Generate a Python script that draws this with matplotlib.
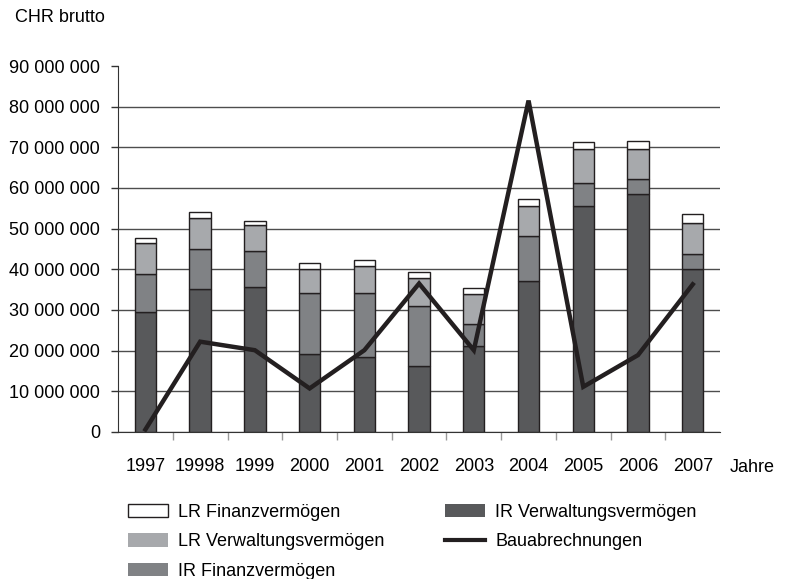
import matplotlib.pyplot as plt
from matplotlib.patches import Patch
from matplotlib.lines import Line2D
from matplotlib.ticker import FuncFormatter, FixedLocator

plt.rcParams['font.family'] = ['Liberation Sans', 'DejaVu Sans']

years = ["1997", "19998", "1999", "2000", "2001", "2002", "2003", "2004", "2005", "2006", "2007"]
# stacked components (CHF gross)
ir_verwaltung = [29.6e6, 35.1e6, 35.7e6, 19.2e6, 18.4e6, 16.2e6, 21.1e6, 37.1e6, 55.6e6, 58.5e6, 40.0e6]
ir_finanz = [9.2e6, 9.9e6, 8.7e6, 14.9e6, 15.8e6, 14.8e6, 5.4e6, 11.1e6, 5.6e6, 3.7e6, 3.7e6]
lr_verwaltung = [7.6e6, 7.7e6, 6.4e6, 6.0e6, 6.6e6, 6.9e6, 7.4e6, 7.4e6, 8.3e6, 7.5e6, 7.8e6]
lr_finanz = [1.3e6, 1.4e6, 1.1e6, 1.5e6, 1.5e6, 1.4e6, 1.6e6, 1.6e6, 1.7e6, 1.9e6, 2.2e6]
bauabrechnungen = [0.6e6, 22.2e6, 20.1e6, 10.7e6, 20.1e6, 36.5e6, 20.1e6, 81.5e6, 11.1e6, 18.9e6, 36.3e6]

c_irv = "#58595b"
c_irf = "#808285"
c_lrv = "#a7a9ac"
c_lrf = "#ffffff"
edge = "#231f20"
fs = 13

fig = plt.figure(figsize=(7.87, 5.79), dpi=100)
ax = fig.add_axes([0.15, 0.254, 0.765, 0.632])

x = list(range(len(years)))
w = 0.39
bottom = [0.0] * len(years)
for vals, col in [(ir_verwaltung, c_irv), (ir_finanz, c_irf), (lr_verwaltung, c_lrv), (lr_finanz, c_lrf)]:
    ax.bar(x, vals, w, bottom=bottom, color=col, edgecolor=edge, linewidth=1.0, zorder=3)
    bottom = [b + v for b, v in zip(bottom, vals)]

ax.plot(x, bauabrechnungen, color=edge, linewidth=3.2, zorder=4, solid_joinstyle="miter")

ax.set_xlim(-0.5, 10.5)
ax.set_ylim(0, 90e6)
ax.set_yticks([i * 10e6 for i in range(10)])
ax.yaxis.set_major_formatter(FuncFormatter(lambda v, p: f"{int(v):,}".replace(",", " ")))
ax.grid(axis="y", color="#4d4d4d", linewidth=1.0, zorder=0)
ax.yaxis.get_gridlines()[-1].set_visible(False)
ax.tick_params(axis="y", length=5, width=1, color="#333333", labelsize=fs, pad=8)

ax.set_xticks(x)
ax.set_xticklabels(years)
ax.xaxis.set_minor_locator(FixedLocator([i + 0.5 for i in range(10)]))
ax.tick_params(axis="x", which="major", length=0, labelsize=fs, pad=19)
ax.tick_params(axis="x", which="minor", length=6, width=1, color="#999999")

for s in ["top", "right"]:
    ax.spines[s].set_visible(False)
ax.spines["left"].set_color("#333333")
ax.spines["bottom"].set_color("#333333")

fig.text(15 / 787, 1 - 18 / 579, "CHR brutto", fontsize=fs, va="center", ha="left")
fig.text(752 / 787, 1 - 467 / 579, "Jahre", fontsize=fs, va="center", ha="center")

handles = [
    Patch(facecolor=c_lrf, edgecolor=edge, linewidth=1.0),
    Patch(facecolor=c_lrv, edgecolor="none"),
    Patch(facecolor=c_irf, edgecolor="none"),
    Patch(facecolor=c_irv, edgecolor="none"),
    Line2D([0], [0], color=edge, linewidth=3),
]
labels = ["LR Finanzvermögen", "LR Verwaltungsvermögen", "IR Finanzvermögen",
          "IR Verwaltungsvermögen", "Bauabrechnungen"]
fig.legend(handles, labels, loc="upper left", bbox_to_anchor=(128 / 787, 1 - 504 / 579),
           ncol=2, frameon=False, fontsize=fs, handlelength=2.2, handleheight=0.75,
           handletextpad=0.55, labelspacing=0.68, columnspacing=3.4, borderpad=0, borderaxespad=0)

fig.savefig("out.png", dpi=100)
